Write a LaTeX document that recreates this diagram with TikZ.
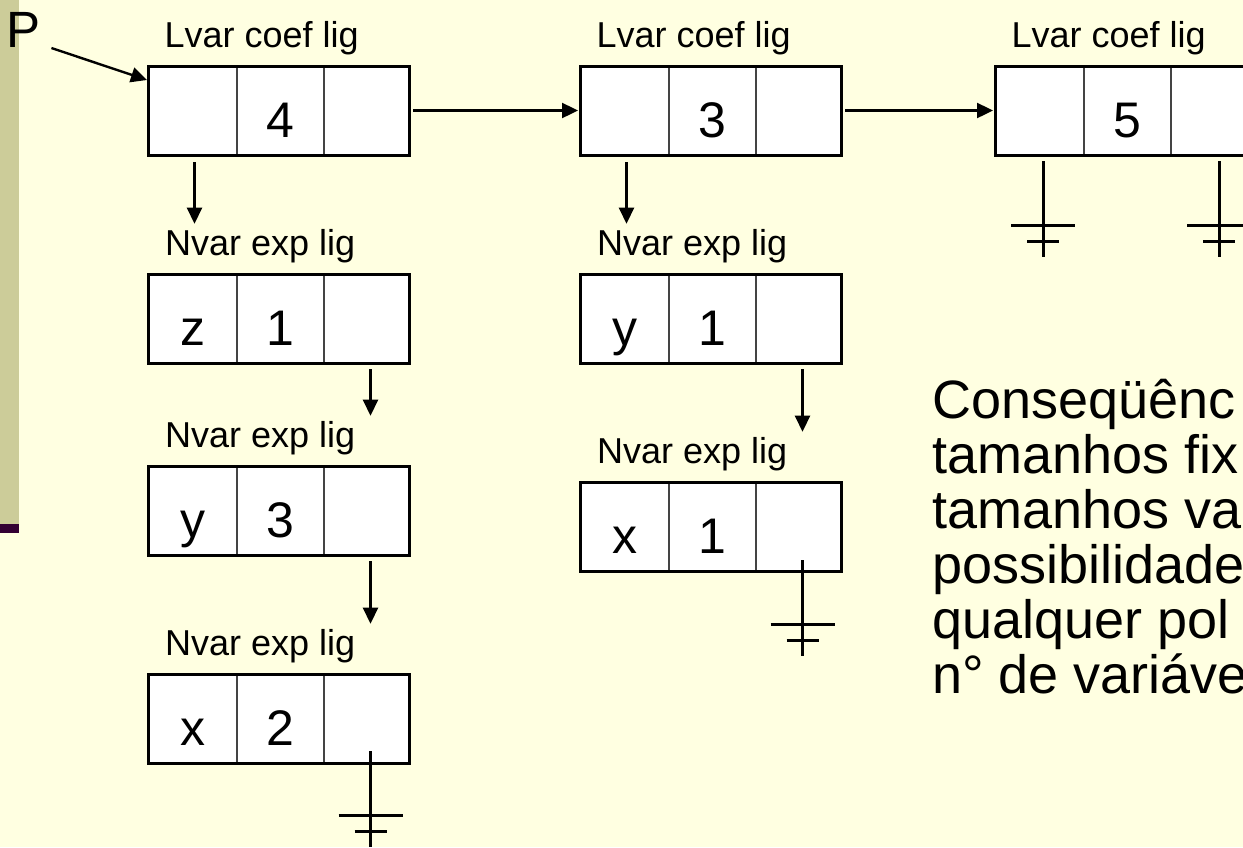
\documentclass[tikz,border=0pt]{standalone}
\usepackage{fontspec}
\setmainfont{Liberation Sans}
\usetikzlibrary{arrows.meta,positioning}
\definecolor{slidebg}{HTML}{FFFFE1}
\definecolor{stripe}{HTML}{CCCC99}
\definecolor{stripebar}{HTML}{330033}
\definecolor{divider}{HTML}{444444}
\tikzset{
  cell/.style={draw=divider, fill=white, line width=2.4pt, minimum height=89pt, inner sep=0pt, outer sep=0pt,
    font=\fontsize{50}{60}\selectfont, text height=64pt, text depth=10pt},
  cella/.style={cell, minimum width=89pt},
  cellb/.style={cell, minimum width=87pt},
  cellc/.style={cell, minimum width=85pt},
  frame/.style={draw=black, line width=3pt},
  fieldlbl/.style={anchor=base west, inner sep=0pt, font=\fontsize{36}{43}\selectfont},
  bodytxt/.style={anchor=base west, inner sep=0pt, font=\fontsize{54}{55}\selectfont},
  ptr/.style={-{Triangle[length=16pt,width=15pt]}, line width=2.4pt},
  gline/.style={line width=3pt},
  gnd/.pic={
    \draw[gline] (0,0) -- (0,96);
    \draw[gline] (-32,64) -- (32,64);
    \draw[gline] (-16,80) -- (16,80);
  },
}

\begin{document}
\begin{tikzpicture}[x=1pt, y=-1pt]
  \useasboundingbox (0,0) rectangle (1243,847);
  \clip (0,0) rectangle (1243,847);
  \fill[slidebg] (0,0) rectangle (1243,847);
  \fill[stripe] (0,0) rectangle (19,524);
  \fill[stripebar] (0,524) rectangle (19,533);

  % records
  \foreach \nm/\x/\y/\ta/\tb in {L1/148/66//4, L2/580/66//3, L3/995/66//5,
      N1/148/274/z/1, N2/148/466/y/3, N3/148/674/x/2, N4/580/274/y/1, N5/580/482/x/1} {
    \node[cella, anchor=north west] (\nm a) at (\x,\y) {\ta};
    \node[cellb, right=0pt of \nm a] (\nm b) {\tb};
    \node[cellc, right=0pt of \nm b] (\nm c) {};
    \draw[frame] (\nm a.north west) rectangle (\nm c.south east);
  }

  % field labels
  \foreach \nm in {L1, L2, L3}
    \node[fieldlbl] (\nm l) at ([xshift=16.5pt,yshift=19pt]\nm a.north west) {Lvar coef lig};
  \foreach \nm in {N1, N2, N3, N4, N5}
    \node[fieldlbl] (\nm l) at ([xshift=17pt,yshift=19pt]\nm a.north west) {Nvar exp lig};

  % head pointer
  \node[anchor=base west, inner sep=0pt, font=\fontsize{51}{60}\selectfont] (P) at (6,47) {P};
  \draw[ptr] ([xshift=11pt,yshift=-1pt]P.base east) -- ([xshift=-1pt,yshift=-14pt]L1a.north west);

  % terms
  \draw[ptr, shorten <=4pt, shorten >=2pt] (L1c.east) -- (L2a.west);
  \draw[ptr, shorten <=4pt, shorten >=2pt] (L2c.east) -- (L3a.west);

  % variables
  \draw[ptr, shorten <=7pt, shorten >=5pt] ([xshift=2pt]L1a.south) -- ([xshift=2pt]L1a.south |- N1l.north);
  \draw[ptr, shorten <=7pt, shorten >=5pt] ([xshift=2pt]L2a.south) -- ([xshift=2pt]L2a.south |- N4l.north);
  \draw[ptr, shorten <=6pt, shorten >=5pt] ([xshift=4pt]N1c.south) -- ([xshift=4pt]N1c.south |- N2l.north);
  \draw[ptr, shorten <=6pt, shorten >=5pt] ([xshift=4pt]N2c.south) -- ([xshift=4pt]N2c.south |- N3l.north);
  \draw[ptr, shorten <=6pt, shorten >=5pt] ([xshift=4pt]N4c.south) -- ([xshift=4pt]N4c.south |- N5l.north);

  % null pointers
  \pic at ([xshift=4pt,yshift=12pt]N3c.south) {gnd};
  \pic at ([xshift=4pt,yshift=11pt]N5c.south) {gnd};
  \pic at ([xshift=3.5pt,yshift=-6pt]L3a.south) {gnd};
  \pic at ([xshift=5.5pt,yshift=-6pt]L3c.south) {gnd};

  % side text
  \foreach \ln [count=\i from 0] in {Conseqüênc, tamanhos fix, tamanhos va, possibilidade, qualquer pol, n° de variáve}
    \node[bodytxt] (txt\i) at (932,{418+55*\i}) {\ln};
\end{tikzpicture}
\end{document}
